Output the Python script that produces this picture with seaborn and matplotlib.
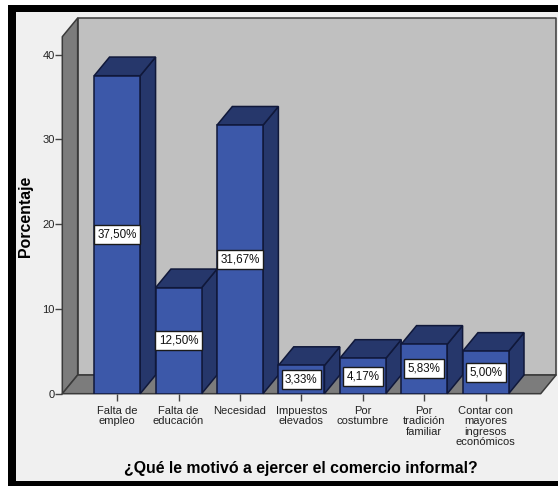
# bar chart in the old SPSS 3D look
import matplotlib
matplotlib.use("Agg")
import matplotlib.pyplot as plt
from matplotlib.patches import Polygon, Rectangle
import pandas as pd
import seaborn as sns

# data
motivos = ["Falta de\nempleo", "Falta de\neducación", "Necesidad", "Impuestos\nelevados",
           "Por\ncostumbre", "Por\ntradición\nfamiliar",
           "Contar con\nmayores\ningresos\neconómicos"]
porcentajes = [37.50, 12.50, 31.67, 3.33, 4.17, 5.83, 5.00]
y_ticks = [0, 10, 20, 30, 40]
y_label = "Porcentaje"
x_label = "¿Qué le motivó a ejercer el comercio informal?"

# sizes in pixels of the reference
W, H = 558, 486
AX_LEFT, AX_RIGHT, AX_TOP, AX_BOTTOM = 62.3, 540.7, 36.7, 393.7
DEPTH_X = 0.25   # in category units
DEPTH_Y = 2.2    # in value units

FRONT = "#3c58a9"
SIDE = "#26376b"
WALL = "#c0c0c0"
FLOOR = "#7c7c7c"
BG = "#f0f0f0"

sns.set_theme(style="white")
plt.rcParams['font.family'] = ['Liberation Sans', 'DejaVu Sans']

fig = plt.figure(figsize=(W / 100, H / 100), dpi=100, facecolor="white")

# black frame around the chart (open on the right side)
fig.add_artist(Rectangle((8 / W, 0), 550 / W, 1 - 5 / H, transform=fig.transFigure, fc="black", ec="none", zorder=-2))
fig.add_artist(Rectangle((15.5 / W, 5 / H), (W - 15.5) / W, (481 - 12.5) / H, transform=fig.transFigure, fc=BG, ec="none", zorder=-1))

ax = fig.add_axes([AX_LEFT / W, 1 - AX_BOTTOM / H, (AX_RIGHT - AX_LEFT) / W, (AX_BOTTOM - AX_TOP) / H])
ax.patch.set_alpha(0)

df = pd.DataFrame({"motivo": motivos, "porcentaje": porcentajes})
sns.barplot(data=df, x="motivo", y="porcentaje", color=FRONT, saturation=1, width=0.75,
            edgecolor="#10183a", linewidth=1.1, ax=ax, zorder=5)

ax.set_xlim(-0.894, 6.897)
ax.set_ylim(0, 42.1)
x0, x1 = ax.get_xlim()
y1 = ax.get_ylim()[1]

# back wall, left wall and floor
edge = dict(ec="#3a3a3a", lw=1.1, clip_on=False, joinstyle="round")
ax.add_patch(Polygon([(x0 + DEPTH_X, DEPTH_Y), (x1 + DEPTH_X, DEPTH_Y), (x1 + DEPTH_X, y1 + DEPTH_Y),
                      (x0 + DEPTH_X, y1 + DEPTH_Y)], fc=WALL, zorder=1, **edge))
ax.add_patch(Polygon([(x0, 0), (x0 + DEPTH_X, DEPTH_Y), (x0 + DEPTH_X, y1 + DEPTH_Y), (x0, y1)],
                     fc=FLOOR, zorder=2, **edge))
ax.add_patch(Polygon([(x0, 0), (x1, 0), (x1 + DEPTH_X, DEPTH_Y), (x0 + DEPTH_X, DEPTH_Y)],
                     fc=FLOOR, zorder=2, **edge))

# side and top of every bar, taken from the bars seaborn drew
for bar in ax.containers[0]:
    bx, bw, bh = bar.get_x(), bar.get_width(), bar.get_height()
    ax.add_patch(Polygon([(bx + bw, 0), (bx + bw + DEPTH_X, DEPTH_Y), (bx + bw + DEPTH_X, bh + DEPTH_Y), (bx + bw, bh)],
                         fc=SIDE, ec="#10183a", lw=1.1, zorder=4, clip_on=False))
    ax.add_patch(Polygon([(bx, bh), (bx + bw, bh), (bx + bw + DEPTH_X, bh + DEPTH_Y), (bx + DEPTH_X, bh + DEPTH_Y)],
                         fc=SIDE, ec="#10183a", lw=1.1, zorder=4, clip_on=False))

# value labels
etiquetas = [f"{v:.2f}".replace(".", ",") + "%" for v in porcentajes]
ax.bar_label(ax.containers[0], labels=etiquetas, label_type="center", fontsize=8.4, color="#111111", zorder=6,
             bbox=dict(boxstyle="square,pad=0.3", fc="white", ec="#1a1a1a", lw=1))

# axes
sns.despine(ax=ax, top=True, right=True, left=True, bottom=True)
ax.set_yticks(y_ticks)
ax.tick_params(axis="both", direction="out", length=5, width=1, color="#444444", left=True, bottom=True,
               labelcolor="#222222", labelsize=8, pad=0.5)
ax.tick_params(axis="x", pad=3.5)
for t in ax.get_xticklabels():
    t.set_linespacing(1.08)

ax.set_xlabel(x_label, fontsize=11.4, fontweight="bold", color="black")
ax.set_ylabel(y_label, fontsize=11.4, fontweight="bold", color="black")
ax.xaxis.set_label_coords((301 - AX_LEFT) / (AX_RIGHT - AX_LEFT), -(461 - AX_BOTTOM) / (AX_BOTTOM - AX_TOP))
ax.yaxis.set_label_coords((33 - AX_LEFT) / (AX_RIGHT - AX_LEFT), (AX_BOTTOM - 216) / (AX_BOTTOM - AX_TOP))

fig.savefig("out.png", dpi=100)
